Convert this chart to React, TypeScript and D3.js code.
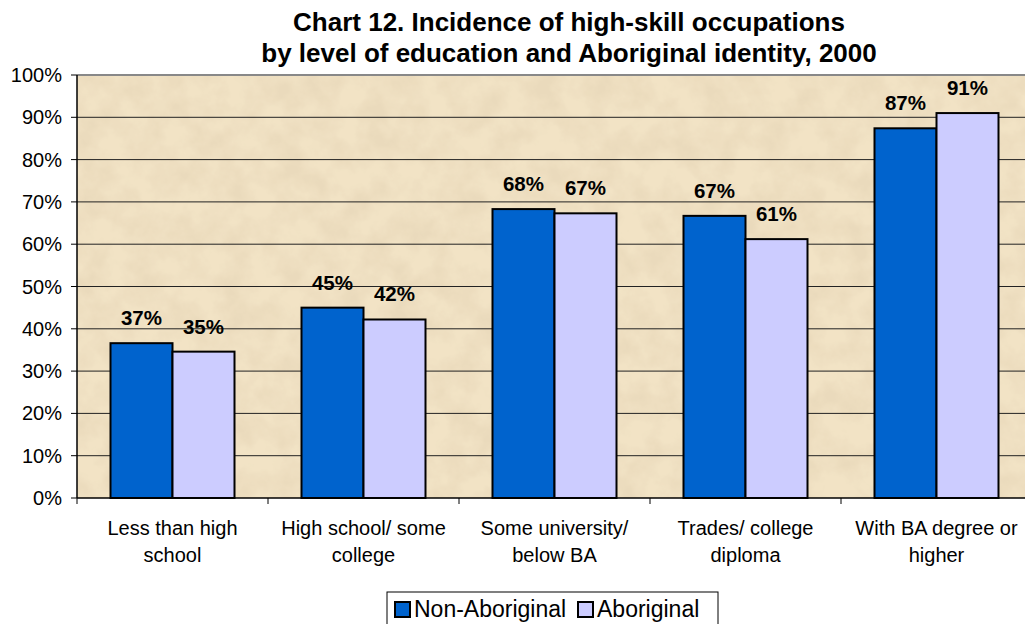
import React from "react";
import { scaleBand, scaleLinear, range } from "d3";

const categories = [
  ["Less than high", "school"],
  ["High school/ some", "college"],
  ["Some university/", "below BA"],
  ["Trades/ college", "diploma"],
  ["With BA degree or", "higher"],
];
const nonAboriginal = [36.6, 45.0, 68.3, 66.7, 87.4];
const aboriginal = [34.6, 42.2, 67.3, 61.2, 91.0];
const seriesNames = ["Non-Aboriginal", "Aboriginal"];
const colors = ["#0063CD", "#CCCCFF"];
const yTicks = range(0, 101, 10);

function App() {
  const margin = { left: 77, top: 75 };
  const plotW = 955;
  const plotH = 423;
  const font = "Arial, 'Liberation Sans', sans-serif";

  const x = scaleBand<number>().domain(range(categories.length)).range([0, plotW]);
  const inner = scaleBand<number>().domain([0, 1]).range([33.5, x.bandwidth() - 33.5]);
  const y = scaleLinear().domain([0, 100]).range([plotH, 0]);
  const series = [nonAboriginal, aboriginal];

  return (
    <svg width={1025} height={624} style={{ position: "absolute", left: 0, top: 0, background: "#fff" }} fontFamily={font}>
      <defs>
        <filter id="parch" x="0" y="0" width="100%" height="100%">
          <feTurbulence type="fractalNoise" baseFrequency="0.035" numOctaves="5" seed="7" result="n" />
          <feColorMatrix in="n" type="matrix"
            values="0 0 0 0 0.82  0 0 0 0 0.70  0 0 0 0 0.50  2.2 0 0 0 -0.72" result="c" />
          <feFlood floodColor="#F2E3C5" result="bg" />
          <feComposite in="c" in2="bg" operator="over" />
        </filter>
      </defs>
      <text x={569} y={31} textAnchor="middle" fontSize={26} fontWeight="bold">
        Chart 12. Incidence of high-skill occupations
      </text>
      <text x={569} y={62} textAnchor="middle" fontSize={26} fontWeight="bold">
        by level of education and Aboriginal identity, 2000
      </text>
      <g transform={`translate(${margin.left},${margin.top})`}>
        <rect x={0} y={0} width={plotW} height={plotH} fill="#EEDDB8" filter="url(#parch)" />
        {yTicks.map((t) => (
          <g key={t}>
            {t > 0 && t < 100 && <line x1={0} x2={plotW} y1={y(t)} y2={y(t)} stroke="#222" strokeWidth={1} />}
            <line x1={-6} x2={0} y1={y(t)} y2={y(t)} stroke="#000" />
            <text x={-15} y={y(t) + 7} textAnchor="end" fontSize={20}>
              {t}%
            </text>
          </g>
        ))}
        <line x1={0} x2={plotW} y1={0} y2={0} stroke="#888" strokeWidth={2} />
        {categories.map((c, i) =>
          series.map((s, j) => {
            const bx = (x(i) ?? 0) + (inner(j) ?? 0);
            const v = s[i];
            return (
              <g key={`${i}-${j}`}>
                <rect x={bx} y={y(v)} width={inner.bandwidth()} height={plotH - y(v)}
                  fill={colors[j]} stroke="#000" strokeWidth={2} />
                <text x={bx + inner.bandwidth() / 2} y={y(v) - 18} textAnchor="middle" fontSize={20.5} fontWeight="bold">
                  {Math.round(v)}%
                </text>
              </g>
            );
          })
        )}
        <line x1={0} x2={0} y1={0} y2={plotH} stroke="#000" strokeWidth={1.5} />
        <line x1={0} x2={plotW} y1={plotH} y2={plotH} stroke="#000" strokeWidth={1.5} />
        {range(categories.length + 1).map((i) => (
          <line key={i} x1={i * x.bandwidth()} x2={i * x.bandwidth()} y1={plotH} y2={plotH + 6} stroke="#000" />
        ))}
        {categories.map((c, i) => (
          <text key={i} textAnchor="middle" fontSize={20}>
            {c.map((line, k) => (
              <tspan key={k} x={(x(i) ?? 0) + x.bandwidth() / 2} y={plotH + 37 + k * 27}>
                {line}
              </tspan>
            ))}
          </text>
        ))}
      </g>
      <g>
        <rect x={387} y={592} width={331} height={45} fill="#fff" stroke="#000" />
        {seriesNames.map((n, j) => {
          const lx = j === 0 ? 395 : 578;
          return (
            <g key={n}>
              <rect x={lx} y={602} width={15} height={15} fill={colors[j]} stroke="#000" strokeWidth={2} />
              <text x={lx + 19} y={617} fontSize={23}>
                {n}
              </text>
            </g>
          );
        })}
      </g>
    </svg>
  );
}

export default App;
